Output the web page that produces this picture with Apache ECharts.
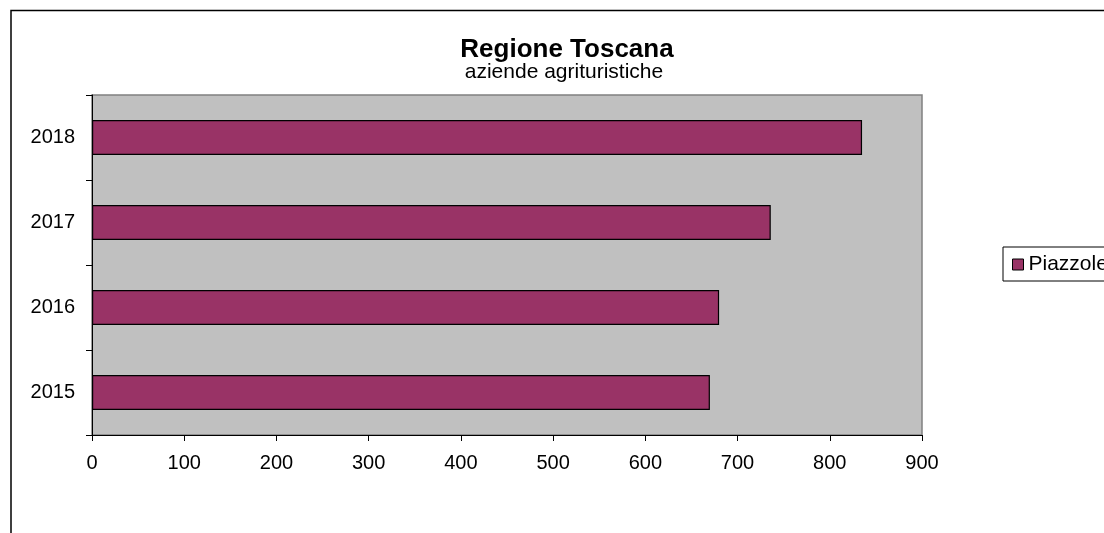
<!DOCTYPE html>
<html>
<head>
<meta charset="utf-8">
<script src="https://cdn.jsdelivr.net/npm/echarts@6/dist/echarts.min.js"></script>
<style>
html,body{margin:0;padding:0;background:#fff;}
#chart{width:1104px;height:533px;}
</style>
</head>
<body>
<div id="chart"></div>
<script>
const categories = ['2015', '2016', '2017', '2018'];
const piazzole = [670, 680, 736, 835];
const xTicks = [0, 900, 100];
const titleText = 'Regione Toscana';
const subtitleText = 'aziende agrituristiche';
const seriesName = 'Piazzole';

const FONT = '"Liberation Sans", Arial, sans-serif';
const chart = echarts.init(document.getElementById('chart'), null, {renderer: 'canvas'});
chart.setOption({
  animation: false,
  backgroundColor: '#ffffff',
  graphic: [{
    type: 'rect',
    shape: {x: 11, y: 10.5, width: 1300, height: 800},
    style: {fill: 'none', stroke: '#000', lineWidth: 1.5},
    silent: true,
    z: 0
  }],
  title: [{
    text: titleText,
    left: 562, top: 32, textAlign: 'center',
    textStyle: {fontFamily: FONT, fontSize: 26, fontWeight: 'bold', color: '#000'}
  }, {
    text: subtitleText,
    left: 559, top: 57, textAlign: 'center',
    textStyle: {fontFamily: FONT, fontSize: 21, fontWeight: 'normal', color: '#000'}
  }],
  legend: {
    left: 1003, top: 247,
    orient: 'vertical',
    padding: [7, 40, 6, 9],
    borderColor: '#000', borderWidth: 1,
    itemWidth: 11, itemHeight: 11, itemGap: 8,
    icon: 'rect',
    textStyle: {fontFamily: FONT, fontSize: 21, color: '#000', padding: [0, 0, 0, 0]},
    data: [{name: seriesName, itemStyle: {color: '#993366', borderColor: '#000', borderWidth: 1}}]
  },
  grid: {
    left: 92, top: 95, width: 830, height: 340,
    show: true, backgroundColor: '#C0C0C0', borderColor: '#808080', borderWidth: 1.5
  },
  xAxis: {
    type: 'value', min: xTicks[0], max: xTicks[1], interval: xTicks[2],
    axisLine: {show: true, lineStyle: {color: '#000', width: 1}},
    axisTick: {show: true, length: 6, lineStyle: {color: '#000'}},
    splitLine: {show: false},
    axisLabel: {fontFamily: FONT, fontSize: 20, color: '#000', margin: 18}
  },
  yAxis: {
    type: 'category', data: categories,
    axisLine: {show: true, lineStyle: {color: '#000', width: 1}},
    axisTick: {show: true, length: 6, lineStyle: {color: '#000'}},
    splitLine: {show: false},
    axisLabel: {fontFamily: FONT, fontSize: 20, color: '#000', margin: 17}
  },
  series: [{
    name: seriesName, type: 'bar', data: piazzole,
    barWidth: '41%',
    itemStyle: {color: '#993366', borderColor: '#000', borderWidth: 1.2}
  }]
});
</script>
</body>
</html>
